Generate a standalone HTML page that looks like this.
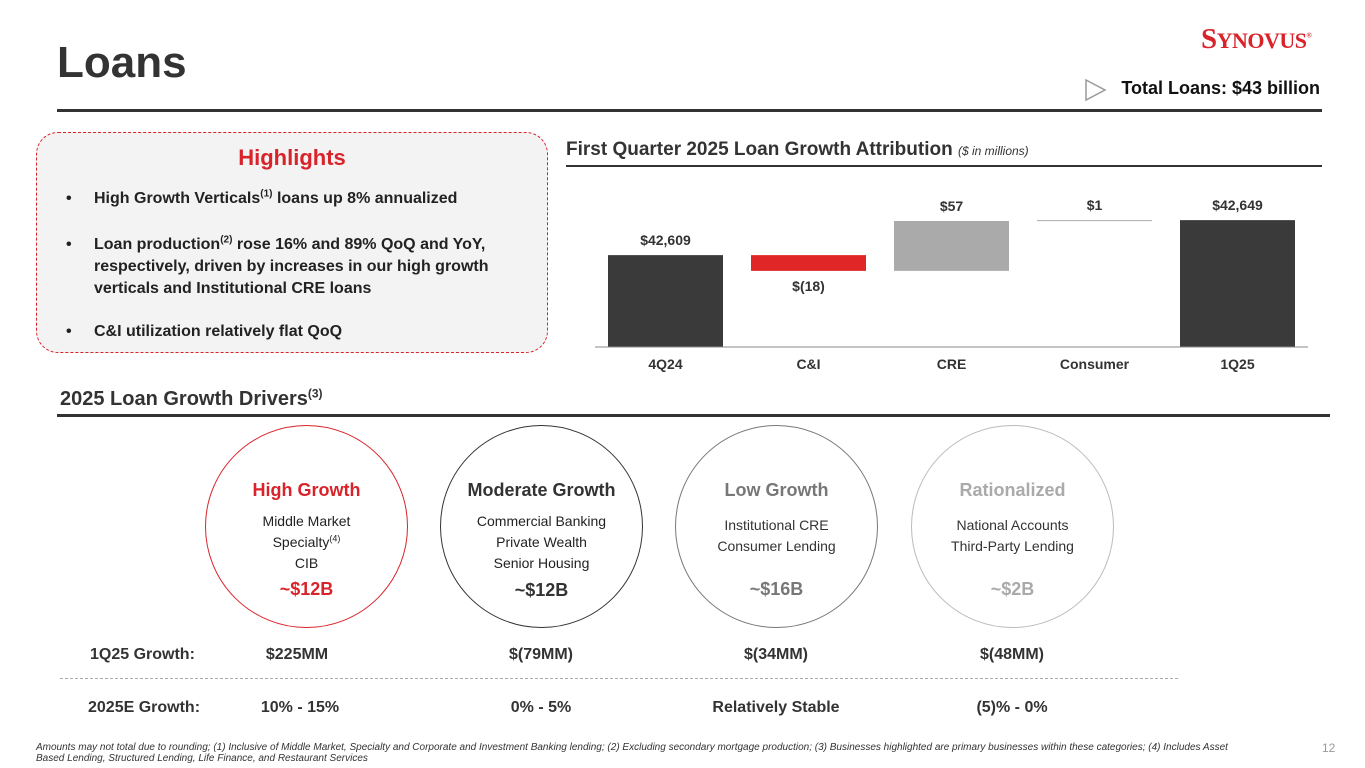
<!DOCTYPE html>
<html><head><meta charset="utf-8"><style>
body{margin:0;width:1365px;height:768px;overflow:hidden;background:#fff;font-family:"Liberation Sans",sans-serif;color:#222;position:relative}
.a{position:absolute}
.c{position:absolute;border-radius:50%;text-align:center;box-sizing:border-box}
.c .h{font-size:18px;font-weight:bold;margin-top:54px}
.c .s{font-size:14px;line-height:21px;margin-top:10px}
.c .v{font-size:18px;font-weight:bold}
.row{position:absolute;font-size:16px;font-weight:bold;color:#333}
sup{line-height:0}
</style></head><body>
<div class="a" style="left:57px;top:38px;font-size:44px;font-weight:bold;color:#333">Loans</div>
<div class="a" style="left:1201px;top:23px;font-family:'Liberation Serif',serif;font-weight:bold;font-size:29px;color:#d9232a;letter-spacing:-0.5px">S<span style="font-size:22px">YNOVUS</span><sup style="font-size:7px">®</sup></div>
<svg class="a" style="left:1083px;top:78px" width="30" height="26"><polygon points="3,2 22,12 3,22" fill="#fff" stroke="#999" stroke-width="1.5"/></svg>
<div class="a" style="left:1106px;top:78px;width:214px;text-align:right;font-size:18px;font-weight:bold;color:#111">Total Loans: $43 billion</div>
<div class="a" style="left:57px;top:109px;width:1265px;height:3px;background:#333"></div>

<div class="a" style="left:36px;top:132px;width:512px;height:221px;border:1.5px dashed #d9232a;border-radius:22px;background:#f3f3f3;box-sizing:border-box"></div>
<div class="a" style="left:36px;width:512px;top:145px;text-align:center;font-size:22px;font-weight:bold;color:#d9232a">Highlights</div>
<div class="a" style="left:66px;top:188px;width:448px;font-size:16px;font-weight:bold;line-height:22px;color:#222">
<div style="display:flex"><span style="width:28px">•</span><span>High Growth Verticals<sup style="font-size:10px">(1)</sup> loans up 8% annualized</span></div>
<div style="display:flex;margin-top:24px"><span style="width:28px;flex:none">•</span><span>Loan production<sup style="font-size:10px">(2)</sup> rose 16% and 89% QoQ and YoY, respectively, driven by increases in our high growth verticals and Institutional CRE loans</span></div>
<div style="display:flex;margin-top:21px"><span style="width:28px">•</span><span>C&amp;I utilization relatively flat QoQ</span></div>
</div>

<div class="a" style="left:566px;top:139px;font-size:19px;font-weight:bold;color:#333">First Quarter 2025 Loan Growth Attribution <span style="font-size:12px;font-style:italic;font-weight:normal">($ in millions)</span></div>
<div class="a" style="left:566px;top:165px;width:756px;height:2px;background:#333"></div>
<svg id="wf" class="a" style="left:0;top:0" width="1365" height="400"></svg>

<div class="a" style="left:60px;top:388px;font-size:20px;font-weight:bold;color:#333">2025 Loan Growth Drivers<sup style="font-size:12px">(3)</sup></div>
<div class="a" style="left:57px;top:414px;width:1273px;height:3px;background:#333"></div>

<div class="c" style="left:205px;top:425px;width:203px;height:203px;border:1.5px solid #d9232a"><div class="h" style="color:#d9232a">High Growth</div><div class="s">Middle Market<br>Specialty<sup style="font-size:9px">(4)</sup><br>CIB</div><div class="v" style="color:#d9232a;margin-top:5px">~$12B</div></div>
<div class="c" style="left:440px;top:425px;width:203px;height:203px;border:1.5px solid #333"><div class="h" style="color:#333">Moderate Growth</div><div class="s">Commercial Banking<br>Private Wealth<br>Senior Housing</div><div class="v" style="color:#333;margin-top:6px">~$12B</div></div>
<div class="c" style="left:675px;top:425px;width:203px;height:203px;border:1.5px solid #777"><div class="h" style="color:#777">Low Growth</div><div class="s" style="color:#333;margin-top:14px">Institutional CRE<br>Consumer Lending</div><div class="v" style="color:#777;margin-top:22px">~$16B</div></div>
<div class="c" style="left:911px;top:425px;width:203px;height:203px;border:1.5px solid #bbb"><div class="h" style="color:#aaa">Rationalized</div><div class="s" style="color:#333;margin-top:14px">National Accounts<br>Third-Party Lending</div><div class="v" style="color:#aaa;margin-top:22px">~$2B</div></div>

<div class="row" style="left:90px;top:646px">1Q25 Growth:</div>
<div class="row" style="left:197px;width:200px;text-align:center;top:646px">$225MM</div>
<div class="row" style="left:441px;width:200px;text-align:center;top:646px">$(79MM)</div>
<div class="row" style="left:676px;width:200px;text-align:center;top:646px">$(34MM)</div>
<div class="row" style="left:912px;width:200px;text-align:center;top:646px">$(48MM)</div>
<div class="a" style="left:60px;top:678px;width:1118px;border-top:1.5px dashed #aaa"></div>
<div class="row" style="left:88px;top:699px">2025E Growth:</div>
<div class="row" style="left:200px;width:200px;text-align:center;top:699px">10% - 15%</div>
<div class="row" style="left:441px;width:200px;text-align:center;top:699px">0% - 5%</div>
<div class="row" style="left:676px;width:200px;text-align:center;top:699px">Relatively Stable</div>
<div class="row" style="left:912px;width:200px;text-align:center;top:699px">(5)% - 0%</div>

<div class="a" style="left:36px;top:742px;width:1195px;font-size:10px;font-style:italic;line-height:11px;color:#333">Amounts may not total due to rounding; (1) Inclusive of Middle Market, Specialty and Corporate and Investment Banking lending; (2) Excluding secondary mortgage production; (3) Businesses highlighted are primary businesses within these categories; (4) Includes Asset Based Lending, Structured Lending, Life Finance, and Restaurant Services</div>
<div class="a" style="left:1322px;top:741px;font-size:12px;color:#999">12</div>

<script>
const categories=["4Q24","C&I","CRE","Consumer","1Q25"];
const values=[42609,-18,57,1,42649];
const labels=["$42,609","$(18)","$57","$1","$42,649"];
const isTotal=[true,false,false,false,true];
const svg=document.getElementById('wf');
const NS='http://www.w3.org/2000/svg';
const base=42504, y0=347, k=0.875;
const y=v=>y0-(v-base)*k;
const x=i=>608+i*143;
const bw=115;
function mk(t,a){const e=document.createElementNS(NS,t);for(const n in a)e.setAttribute(n,a[n]);svg.appendChild(e);return e;}
let run=0;
categories.forEach((c,i)=>{
  let top,bot,col;
  if(isTotal[i]){top=y(values[i]);bot=y0;col='#3a3a3a';run=values[i];}
  else{const s=run,e=run+values[i];top=y(Math.max(s,e));bot=y(Math.min(s,e));run=e;col=values[i]<0?'#e02626':'#aaaaaa';}
  const h=Math.max(bot-top,1);
  const r=mk('rect',{x:x(i),y:top,width:bw,height:h,fill:col});
  
  
  const ly=values[i]<0&&!isTotal[i]?bot+20:top-10;
  const t=mk('text',{x:x(i)+bw/2,y:ly,'text-anchor':'middle','font-size':14,'font-weight':'bold',fill:'#333','font-family':'Liberation Sans'});
  t.textContent=labels[i];
  
  
  const cl=mk('text',{x:x(i)+bw/2,y:369,'text-anchor':'middle','font-size':14,'font-weight':'bold',fill:'#333','font-family':'Liberation Sans'});
  cl.textContent=c;
  
  
});
const ax=mk('line',{x1:595,x2:1308,y1:y0,y2:y0,stroke:'#888','stroke-width':1});


</script>
</body></html>
